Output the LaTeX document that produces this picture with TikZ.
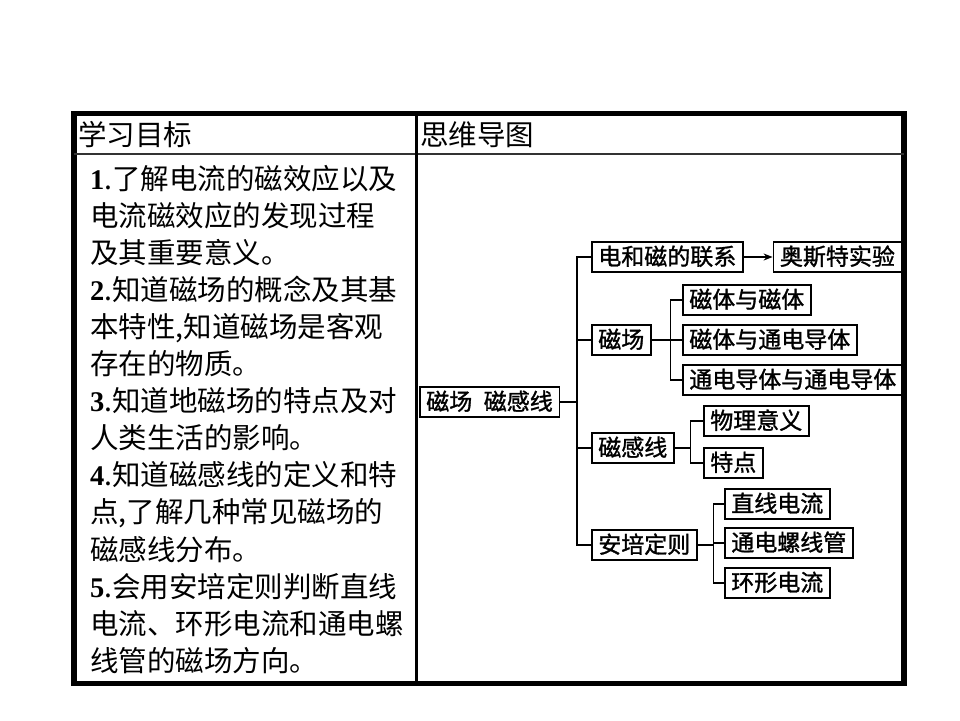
\documentclass[tikz,border=0pt]{standalone}
\usepackage{fontspec}
\setmainfont{Noto Sans CJK SC}
\newfontfamily\numfont{Liberation Serif}
\newfontfamily\mapfont{Noto Sans CJK SC}[FakeBold=1.3]
\usetikzlibrary{arrows.meta, positioning}
\newcommand{\goalno}[1]{{\numfont\bfseries #1}}

\begin{document}
\begin{tikzpicture}[x=1pt, y=-1pt]
    % Define styles
    \tikzstyle{head} = [anchor=base west, inner sep=0pt, font=\fontsize{28.5}{34}\selectfont]
    \tikzstyle{goal} = [anchor=base west, inner sep=0pt, font=\fontsize{28.5}{34}\selectfont]
    \tikzstyle{topic} = [draw, line width=1.6pt, anchor=west, inner xsep=6.5pt, inner ysep=4pt, text height=19pt, text depth=3pt, font=\mapfont\fontsize{23}{27}\selectfont]
    \tikzstyle{branch} = [line width=1.6pt]

    \useasboundingbox (0,0) rectangle (960,720);

    % Table frame
    \draw[line width=5.5pt] (74,113.5) rectangle (904,683.5);
    \draw[line width=2pt, black!80] (74,154) -- (904,154);
    \draw[line width=2.5pt] (416.5,113.5) -- (416.5,683.5);

    % Headers
    \node[head] (goalhead) at (78,145) {学习目标};
    \node[head] (maphead) at (420,145) {思维导图};

    % Learning goals
    \foreach \line [count=\i] in {
        {\goalno{1}.了解电流的磁效应以及},
        {电流磁效应的发现过程},
        {及其重要意义。},
        {\goalno{2}.知道磁场的概念及其基},
        {本特性,知道磁场是客观},
        {存在的物质。},
        {\goalno{3}.知道地磁场的特点及对},
        {人类生活的影响。},
        {\goalno{4}.知道磁感线的定义和特},
        {点,了解几种常见磁场的},
        {磁感线分布。},
        {\goalno{5}.会用安培定则判断直线},
        {电流、环形电流和通电螺},
        {线管的磁场方向。}}
        \node[goal] (goal\i) at (90,{189+37.1*(\i-1)}) {\line};

    % Nodes
    \node[topic] (root) at (419,402) {磁场\hspace{0.5em}磁感线};
    \node[topic] (link) at (591,257) {电和磁的联系};
    \node[topic, right=29pt of link] (oersted) {奥斯特实验};
    \node[topic] (field) at (591,340) {磁场};
    \node[topic] (magmag) at (682,300) {磁体与磁体};
    \node[topic] (magcur) at (682,340) {磁体与通电导体};
    \node[topic] (curcur) at (682,380) {通电导体与通电导体};
    \node[topic] (lines) at (591,448) {磁感线};
    \node[topic] (meaning) at (703,421) {物理意义};
    \node[topic] (feature) at (703,463) {特点};
    \node[topic] (ampere) at (591,545) {安培定则};
    \node[topic] (straight) at (724,504) {直线电流};
    \node[topic] (solenoid) at (724,543) {通电螺线管};
    \node[topic] (ring) at (724,583) {环形电流};

    % Connectors
    \draw[branch] (root.east) -- ++(17,0) |- (link.west);
    \draw[branch] (root.east) -- ++(17,0) |- (field.west);
    \draw[branch] (root.east) -- ++(17,0) |- (lines.west);
    \draw[branch] (root.east) -- ++(17,0) |- (ampere.west);
    \draw[branch, -{Stealth[length=9pt, width=7pt]}] (link) -- (oersted);
    \draw[branch] (field.east) -- ++(19,0) |- (magmag.west);
    \draw[branch] (field.east) -- ++(19,0) |- (magcur.west);
    \draw[branch] (field.east) -- ++(19,0) |- (curcur.west);
    \draw[branch] (lines.east) -- ++(16,0) |- (meaning.west);
    \draw[branch] (lines.east) -- ++(16,0) |- (feature.west);
    \draw[branch] (ampere.east) -- ++(16,0) |- (straight.west);
    \draw[branch] (ampere.east) -- ++(16,0) |- (solenoid.west);
    \draw[branch] (ampere.east) -- ++(16,0) |- (ring.west);
\end{tikzpicture}
\end{document}
